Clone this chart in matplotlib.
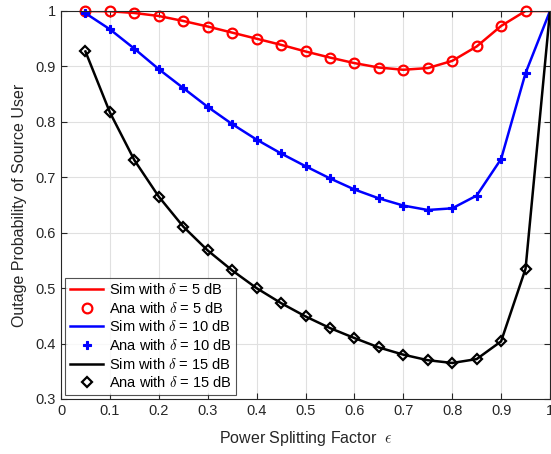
import matplotlib
matplotlib.use("Agg")
import matplotlib.pyplot as plt
import numpy as np

plt.rcParams['font.family'] = ['Liberation Sans', 'DejaVu Sans']
plt.rcParams['mathtext.fontset'] = 'cm'

eps = [0.05, 0.1, 0.15, 0.2, 0.25, 0.3, 0.35, 0.4, 0.45, 0.5, 0.55, 0.6,
       0.65, 0.7, 0.75, 0.8, 0.85, 0.9, 0.95, 1.0]
p5 = [1.0, 0.9995, 0.9964, 0.991, 0.982, 0.972, 0.961, 0.950, 0.939, 0.927,
      0.916, 0.906, 0.898, 0.894, 0.897, 0.910, 0.936, 0.973, 1.0, 1.0]
p10 = [0.996, 0.967, 0.932, 0.895, 0.861, 0.827, 0.796, 0.768, 0.743, 0.720,
       0.698, 0.678, 0.662, 0.649, 0.641, 0.644, 0.667, 0.733, 0.888, 1.0]
p15 = [0.927, 0.817, 0.731, 0.665, 0.611, 0.568, 0.532, 0.500, 0.473, 0.449,
       0.428, 0.410, 0.393, 0.380, 0.370, 0.365, 0.372, 0.404, 0.535, 1.0]

xticks = [0, 0.1, 0.2, 0.3, 0.4, 0.5, 0.6, 0.7, 0.8, 0.9, 1]
xticklabels = ['0', '0.1', '0.2', '0.3', '0.4', '0.5', '0.6', '0.7', '0.8', '0.9', '1']
yticks = [0.3, 0.4, 0.5, 0.6, 0.7, 0.8, 0.9, 1]
yticklabels = ['0.3', '0.4', '0.5', '0.6', '0.7', '0.8', '0.9', '1']

fig = plt.figure(figsize=(5.51, 4.54), dpi=100)
ax = fig.add_axes([61/551, 55/454, 489/551, 388/454])

lw = 1.8
ax.plot(eps, p5, color='red', lw=lw, label=r'Sim with $\delta$ = 5 dB')
ax.plot(eps[:-1], p5[:-1], ls='none', marker='o', ms=7, mfc='none', mec='red', mew=1.6,
        label=r'Ana with $\delta$ = 5 dB', clip_on=False)
ax.plot(eps, p10, color='blue', lw=lw, label=r'Sim with $\delta$ = 10 dB')
ax.plot(eps[:-1], p10[:-1], ls='none', marker='P', ms=5.5, mfc='blue', mec='blue', mew=0.8,
        label=r'Ana with $\delta$ = 10 dB', clip_on=False)
ax.plot(eps, p15, color='black', lw=lw, label=r'Sim with $\delta$ = 15 dB')
ax.plot(eps[:-1], p15[:-1], ls='none', marker='D', ms=5.5, mfc='none', mec='black', mew=1.6,
        label=r'Ana with $\delta$ = 15 dB', clip_on=False)

ax.set_xlim(0, 1)
ax.set_ylim(0.3, 1)
ax.set_xticks(xticks)
ax.set_xticklabels(xticklabels)
ax.set_yticks(yticks)
ax.set_yticklabels(yticklabels)
ax.grid(True, color='#e0e0e0', lw=0.8)
ax.set_axisbelow(True)
ax.tick_params(direction='in', top=True, right=True, length=4, labelsize=10.5,
               colors='#262626', width=0.8)
for s in ax.spines.values():
    s.set_color('#262626')
    s.set_linewidth(0.8)

ax.set_xlabel(r'Power Splitting Factor  $\epsilon$', fontsize=11.5, color='#262626', labelpad=8)
ax.set_ylabel('Outage Probability of Source User', fontsize=11.5, color='#262626', labelpad=6)

leg = ax.legend(loc='lower left', fontsize=10.5, frameon=True, fancybox=False,
                edgecolor='#262626', handlelength=2.3, handletextpad=0.4,
                borderpad=0.3, labelspacing=0.25, borderaxespad=0.3)
leg.get_frame().set_linewidth(0.8)

fig.savefig('out.png', dpi=100)
